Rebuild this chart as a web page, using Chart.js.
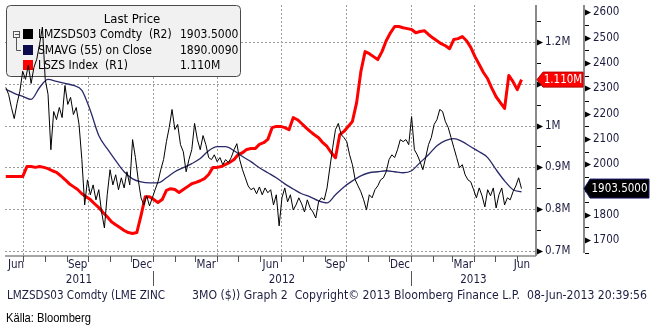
<!DOCTYPE html>
<html>
<head>
<meta charset="utf-8">
<script src="https://cdn.jsdelivr.net/npm/chart.js@4.4.0/dist/chart.umd.min.js"></script>
<style>
  html, body { margin: 0; padding: 0; background: #fff; }
  canvas { display: block; }
</style>
</head>
<body>
<canvas id="zincChart" width="657" height="329"></canvas>
<script>
// ==========================
// Data
// ==========================
const seriesNames = ['LMZSDS03 Comdty  (R2)', 'SMAVG (55) on Close', 'LSZS Index  (R1)'];

// LME zinc 3M price, USD/t, one reading every 4 days from 2011-06-06
const priceStart = '2011-06-06';
const priceStepDays = 4;
const priceValues = [
  2303,2276,2224,2180,2240,2288,2367,2335,2391,2319,
  2383,2415,2474,2542,2335,2276,2057,2208,2176,2224,
  2184,2311,2236,2264,2196,2224,2157,2018,1839,1938,
  1879,1918,1859,1899,1811,1748,1879,1978,1918,1958,
  1899,1946,1906,1970,1918,2097,2026,1938,1867,1839,
  1875,1835,1867,1899,1930,1978,2018,2089,2145,2216,
  2137,2157,2077,2049,1970,2018,2057,2161,2097,2057,
  2113,2077,2026,2018,2037,2010,2026,1998,2018,2006,
  2026,2057,2081,2018,1978,1946,1914,1899,1906,1883,
  1910,1879,1906,1887,1899,1839,1879,1756,1867,1906,
  1851,1879,1819,1839,1867,1843,1811,1859,1827,1811,
  1787,1851,1867,1859,1906,1986,2065,2137,2161,2117,
  2105,2089,2037,1998,1938,1914,1891,1859,1819,1879,
  1867,1899,1914,1938,1946,1970,2018,2037,2026,2057,
  2097,2089,2097,2077,2188,2057,2037,2010,1978,2026,
  2077,2105,2157,2176,2216,2208,2168,2145,2105,2065,
  2026,1986,1998,1958,1938,1930,1899,1867,1906,1875,
  1831,1899,1875,1906,1827,1879,1906,1839,1867,1859,
  1891,1914,1946,1903.5
];

// 55-day moving average, one reading every 12 days
const smaStepDays = 12;
const smaValues = [
  2296,2280,2268,2256,2303,2335,2327,2319,2311,2292,
  2212,2113,2061,2014,1970,1942,1930,1926,1926,1946,
  1970,1986,2002,2022,2053,2069,2069,2053,2030,2010,
  1986,1966,1946,1922,1902,1883,1871,1855,1847,1879,
  1910,1934,1954,1966,1970,1974,1970,1966,1974,2006,
  2037,2073,2093,2101,2089,2069,2049,2026,1978,1934,
  1899,1890.009
];

// LME zinc stocks (LSZS), thousand tonnes, one reading every 6 days
const stockStepDays = 6;
const stockValues = [
  878,878,878,878,878, 902,902,900,902,900,
  897,892,888,880,871, 861,854,847,837,830,
  823,813,804,792,782, 770,763,756,749,744,
  742,744,785,830,830, 823,816,823,845,849,
  847,840,847,854,861, 864,868,873,883,900,
  900,902,907,912,919, 931,935,943,945,945,
  955,959,967,995,998, 998,995,990,1019,1014,
  1005,995,986,978,971, 959,950,935,923,978,
  986,998,1010,1055,1129, 1177,1172,1165,1158,1177,
  1203,1222,1237,1237,1234, 1232,1230,1222,1225,1227,
  1218,1210,1203,1196,1191, 1184,1206,1208,1213,1203,
  1187,1165,1146,1127,1112, 1089,1069,1055,1041,1120,
  1105,1086,1110
];

// axis ticks
const stockTicks = [700,750,800,850,900,950,1000,1050,1100,1150,1200,1250];
const stockGrid  = [700,800,900,1000,1100,1200];
const priceTicks = [1650,1700,1750,1800,1850,1900,1950,2000,2050,2100,2150,2200,2250,2300,2350,2400,2450,2500,2550,2600];
const gridDates  = ['2011-07-01','2011-10-01','2012-01-01','2012-04-01','2012-07-01','2012-10-01','2013-01-01','2013-04-01'];
const labelMonths = ['2011-06','2011-09','2011-12','2012-03','2012-06','2012-09','2012-12','2013-03','2013-06'];
const monthNames  = ['Jun','Sep','Dec','Mar','Jun','Sep','Dec','Mar','Jun'];
const yearLabels  = ['2011','2012','2013'];

const FONT = "'DejaVu Sans Condensed', 'DejaVu Sans', sans-serif";
const TEXT_COLOR = '#1c1c40';

// ==========================
// Helpers
// ==========================
function dayOf(s) {
  const p = s.split('-').map(Number);
  return (Date.UTC(p[0], p[1] - 1, p[2] || 1) - Date.UTC(2011, 5, 6)) / 864e5;
}
function toPoints(values, step) {
  const d0 = dayOf(priceStart);
  return values.map((v, i) => ({ x: d0 + i * step, y: v }));
}
function line(ctx, x1, y1, x2, y2) {
  ctx.beginPath(); ctx.moveTo(x1, y1); ctx.lineTo(x2, y2); ctx.stroke();
}
function fitText(ctx, s, x, y, w) {
  const m = ctx.measureText(s).width;
  ctx.save();
  ctx.translate(x, y);
  ctx.scale(w / m, 1);
  ctx.fillText(s, 0, 0);
  ctx.restore();
}
function fmtStock(v) { return (v / 1000) + 'M'; }
// right axes must not push the plot area in with label padding
function fixAxis(width) {
  return s => {
    s.width = width;
    s.paddingTop = 0;
    s.paddingBottom = 0;
  };
}

// ==========================
// Legend box, grid, axes decorations
// ==========================
function drawLegend(ctx) {
  ctx.save();
  ctx.beginPath();
  ctx.roundRect(6.5, 5.5, 234, 71, 4);
  ctx.fillStyle = '#f1f1f1';
  ctx.fill();
  ctx.strokeStyle = '#4a4a4a';
  ctx.lineWidth = 1;
  ctx.stroke();

  ctx.fillStyle = '#000';
  ctx.font = '13px ' + FONT;
  ctx.textAlign = 'center';
  ctx.textBaseline = 'middle';
  ctx.fillText('Last Price', 132, 20);

  // little tree icon
  ctx.strokeStyle = '#555';
  ctx.strokeRect(13.5, 31.5, 6, 6);
  line(ctx, 15, 34.5, 19, 34.5);
  line(ctx, 16.5, 38, 16.5, 50.5);
  line(ctx, 16.5, 50.5, 21, 50.5);

  const rows = [34, 50, 65];
  const swatch = ['#000000', '#0b0b4e', '#ff0000'];
  const lastVals = [
    priceValues[priceValues.length - 1].toFixed(4),
    smaValues[smaValues.length - 1].toFixed(4),
    (stockValues[stockValues.length - 1] / 1000).toFixed(3) + 'M'
  ];
  ctx.font = '12px ' + FONT;
  ctx.textAlign = 'left';
  rows.forEach((y, i) => {
    ctx.fillStyle = swatch[i];
    ctx.fillRect(23, y - 5, 10, 10);
    ctx.fillStyle = '#000';
    ctx.fillText(seriesNames[i], 38, y + 0.5);
    ctx.fillText(lastVals[i], 180, y + 0.5);
  });
  ctx.restore();
}

function valueTag(ctx, tipX, y, w, h, fill, stroke, text) {
  ctx.save();
  ctx.beginPath();
  ctx.moveTo(tipX, y);
  ctx.lineTo(tipX + 6, y - h / 2);
  ctx.lineTo(tipX + w, y - h / 2);
  ctx.lineTo(tipX + w, y + h / 2);
  ctx.lineTo(tipX + 6, y + h / 2);
  ctx.closePath();
  ctx.fillStyle = fill;
  ctx.fill();
  ctx.strokeStyle = stroke;
  ctx.lineWidth = 1;
  ctx.stroke();
  ctx.fillStyle = '#fff';
  ctx.font = '11.5px ' + FONT;
  ctx.textAlign = 'center';
  ctx.textBaseline = 'middle';
  ctx.fillText(text, tipX + 3 + w / 2, y + 0.5);
  ctx.restore();
}

const bbgPlugin = {
  id: 'bbgDecor',
  beforeDatasetsDraw(chart) {
    const { ctx, chartArea: a, scales } = chart;
    ctx.save();
    ctx.strokeStyle = '#9c9c9c';
    ctx.lineWidth = 1;
    ctx.setLineDash([2, 2]);
    stockGrid.forEach(v => {
      const y = Math.round(scales.y1.getPixelForValue(v)) + 0.5;
      line(ctx, a.left, y, a.right, y);
    });
    gridDates.forEach(d => {
      const x = Math.round(scales.x.getPixelForValue(dayOf(d))) + 0.5;
      line(ctx, x, a.top, x, a.bottom);
    });
    ctx.restore();
    drawLegend(ctx);
  },
  afterDatasetsDraw(chart) {
    const { ctx, chartArea: a, scales } = chart;
    const xs = scales.x, y1 = scales.y1, y2 = scales.y2;
    ctx.save();

    // axis lines
    ctx.strokeStyle = '#8a8a8a';
    ctx.lineWidth = 2;
    line(ctx, a.right, a.top, a.right, a.bottom);
    line(ctx, y2.left, a.top, y2.left, a.bottom - 3);
    ctx.lineWidth = 1.5;
    line(ctx, a.left, a.bottom, a.right, a.bottom);

    // tick marks on the right axes
    ctx.fillStyle = '#000';
    ctx.strokeStyle = '#000';
    ctx.lineWidth = 1;
    const ticks = (scale, x0, vals, isMajor) => {
      vals.forEach(v => {
        const y = Math.round(scale.getPixelForValue(v)) + 0.5;
        if (isMajor(v)) {
          ctx.beginPath();
          ctx.moveTo(x0 + 1, y - 3);
          ctx.lineTo(x0 + 7, y);
          ctx.lineTo(x0 + 1, y + 3);
          ctx.closePath();
          ctx.fill();
        } else {
          line(ctx, x0 + 1, y, x0 + 5, y);
        }
      });
    };
    ticks(y1, a.right, stockTicks, v => v % 100 === 0);
    ticks(y2, y2.left, priceTicks, v => v % 100 === 0);

    // month ticks on the time axis
    ctx.strokeStyle = '#555';
    for (let m = 0; m < 24; m++) {
      const yr = 2011 + Math.floor((6 + m) / 12);
      const mo = ((6 + m) % 12) + 1;
      const x = Math.round(xs.getPixelForValue(dayOf(yr + '-' + String(mo).padStart(2, '0') + '-01'))) + 0.5;
      line(ctx, x, a.bottom, x, a.bottom + 6);
    }
    // year separators
    ['2012-01-01', '2013-01-01'].forEach(d => {
      const x = Math.round(xs.getPixelForValue(dayOf(d))) + 0.5;
      line(ctx, x, a.bottom + 15, x, a.bottom + 30);
    });

    // month and year labels
    ctx.fillStyle = TEXT_COLOR;
    ctx.font = '11.5px ' + FONT;
    ctx.textAlign = 'center';
    ctx.textBaseline = 'middle';
    labelMonths.forEach((ym, i) => {
      const p = ym.split('-').map(Number);
      const next = p[1] === 12 ? (p[0] + 1) + '-01' : p[0] + '-' + String(p[1] + 1).padStart(2, '0');
      const mid = (xs.getPixelForValue(dayOf(ym)) + xs.getPixelForValue(dayOf(next))) / 2;
      const w = ctx.measureText(monthNames[i]).width;
      const cx = Math.min(Math.max(mid, a.left + w / 2 + 3), a.right - w / 2 - 6);
      ctx.fillText(monthNames[i], cx, a.bottom + 9);
    });
    const yb = [a.left, xs.getPixelForValue(dayOf('2012-01-01')), xs.getPixelForValue(dayOf('2013-01-01')), a.right];
    yearLabels.forEach((t, i) => ctx.fillText(t, (yb[i] + yb[i + 1]) / 2, a.bottom + 24));

    // last value tags
    const lastStock = stockValues[stockValues.length - 1];
    const lastPrice = priceValues[priceValues.length - 1];
    valueTag(ctx, a.right + 1, y1.getPixelForValue(lastStock), 46, 15, '#ff0000', '#b00000', (lastStock / 1000).toFixed(3) + 'M');
    valueTag(ctx, y2.left, y2.getPixelForValue(lastPrice), 65, 19, '#000000', '#1a1a70', lastPrice.toFixed(4));

    // footer
    ctx.fillStyle = TEXT_COLOR;
    ctx.textAlign = 'left';
    ctx.font = '11.5px ' + FONT;
    fitText(ctx, 'LMZSDS03 Comdty (LME ZINC', 7, 296, 158);
    fitText(ctx, '3MO ($)) Graph 2  Copyright\u00a9 2013 Bloomberg Finance L.P.  08-Jun-2013 20:39:56', 192, 296, 455);
    ctx.fillStyle = '#000';
    ctx.font = "13px 'Liberation Sans Narrow', 'Liberation Sans', sans-serif";
    fitText(ctx, 'K\u00e4lla: Bloomberg', 6, 318, 85);
    ctx.restore();
  }
};

// ==========================
// Chart
// ==========================
const tickFont = { family: FONT, size: 11.5 };

new Chart(document.getElementById('zincChart').getContext('2d'), {
  type: 'line',
  data: {
    datasets: [
      {
        label: seriesNames[0],
        data: toPoints(priceValues, priceStepDays),
        yAxisID: 'y2',
        borderColor: '#000000',
        borderWidth: 1,
        pointRadius: 0,
        tension: 0,
        order: 0
      },
      {
        label: seriesNames[1],
        data: toPoints(smaValues, smaStepDays),
        yAxisID: 'y2',
        borderColor: '#2a2a6a',
        borderWidth: 1.3,
        pointRadius: 0,
        cubicInterpolationMode: 'monotone',
        order: 1
      },
      {
        label: seriesNames[2],
        data: toPoints(stockValues, stockStepDays),
        yAxisID: 'y1',
        borderColor: '#ff0000',
        borderWidth: 3,
        borderJoinStyle: 'round',
        pointRadius: 0,
        tension: 0,
        order: 2
      }
    ]
  },
  options: {
    responsive: false,
    animation: false,
    devicePixelRatio: 1,
    layout: { padding: { left: 5, top: 5, right: 0, bottom: 73 } },
    plugins: { legend: { display: false }, tooltip: { enabled: false } },
    scales: {
      x: { type: 'linear', display: false, min: -1.1, max: 752.6 },
      y1: {
        type: 'linear', position: 'right', weight: 0,
        min: 688, max: 1288.5,
        grid: { display: false, drawTicks: false },
        border: { display: false },
        afterBuildTicks: s => { s.ticks = stockTicks.map(v => ({ value: v })); },
        afterFit: fixAxis(48),
        ticks: {
          padding: 9, font: tickFont, color: TEXT_COLOR, autoSkip: false,
          callback: v => (v % 100 === 0 && v !== 1100) ? fmtStock(v) : ''
        }
      },
      y2: {
        type: 'linear', position: 'right', weight: 1,
        min: 1637, max: 2629,
        grid: { display: false, drawTicks: false },
        border: { display: false },
        afterBuildTicks: s => { s.ticks = priceTicks.map(v => ({ value: v })); },
        afterFit: fixAxis(73),
        ticks: {
          padding: 9, font: tickFont, color: TEXT_COLOR, autoSkip: false,
          callback: v => (v % 100 === 0 && v !== 1900) ? String(v) : ''
        }
      }
    }
  },
  plugins: [bbgPlugin]
});
</script>
</body>
</html>
